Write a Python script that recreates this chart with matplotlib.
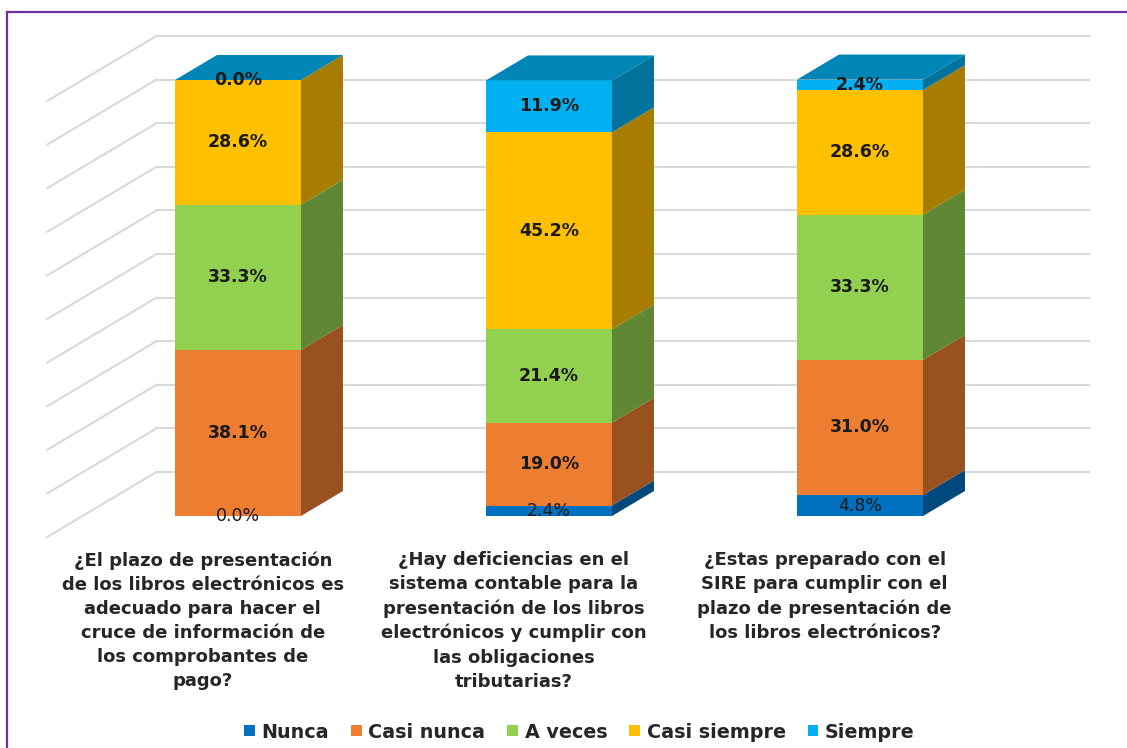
import numpy as np
import matplotlib
matplotlib.use("Agg")
import matplotlib.pyplot as plt
from matplotlib.patches import Polygon, Patch
from matplotlib.lines import Line2D
import matplotlib.colors as mcolors

plt.rcParams['font.family'] = ['DejaVu Sans']

# data
preguntas = [
    "¿El plazo de presentación\nde los libros electrónicos es\nadecuado para hacer el\ncruce de información de\nlos comprobantes de\npago?",
    "¿Hay deficiencias en el\nsistema contable para la\npresentación de los libros\nelectrónicos y cumplir con\nlas obligaciones\ntributarias?",
    "¿Estas preparado con el\nSIRE para cumplir con el\nplazo de presentación de\nlos libros electrónicos?",
]
series = ["Nunca", "Casi nunca", "A veces", "Casi siempre", "Siempre"]
nunca = [0.0, 2.4, 4.8]
casi_nunca = [38.1, 19.0, 31.0]
a_veces = [33.3, 21.4, 33.3]
casi_siempre = [28.6, 45.2, 28.6]
siempre = [0.0, 11.9, 2.4]
colores = ["#0070C0", "#ED7D31", "#92D050", "#FFC000", "#00B0F0"]

valores = [nunca, casi_nunca, a_veces, casi_siempre, siempre]

# fake 3d geometry (category units / percent units)
ddx = 42 / 311.0
ddy = 25 / 4.36
D_back = 1.76
D_front = -0.84
w = 0.405

def shade(c, f):
    r, g, b = mcolors.to_rgb(c)
    return (r * f, g * f, b * f)

fig = plt.figure(figsize=(11.27, 7.48), dpi=100)
ax = fig.add_axes([0, 0, 1, 1])
ax.set_xlim((0 - 238) / 311.0, (1127 - 238) / 311.0)
ax.set_ylim((516 - 748) / 4.36, 516 / 4.36)
ax.axis('off')

# walls / gridlines
grid_c = "#D9D9D9"
for v in range(0, 101, 10):
    yb = v + D_back * ddy
    xb = -0.5 + D_back * ddx
    ax.plot([xb, 2.5 + D_back * ddx], [yb, yb], color=grid_c, lw=1.5, zorder=1)
    ax.plot([xb, -0.5 + D_front * ddx], [yb, v + D_front * ddy], color=grid_c, lw=1.5, zorder=1)

x = np.arange(len(preguntas))
bottom = np.zeros(len(preguntas))
for i, vals in enumerate(valores):
    vals = np.array(vals)
    ax.bar(x, vals, w, bottom=bottom, color=colores[i], zorder=3)
    for j in range(len(x)):
        if vals[j] <= 0:
            continue
        x1 = x[j] + w / 2
        y0 = bottom[j]
        y1 = bottom[j] + vals[j]
        side = Polygon([(x1, y0), (x1 + ddx, y0 + ddy), (x1 + ddx, y1 + ddy), (x1, y1)],
                       closed=True, facecolor=shade(colores[i], 0.65), edgecolor='none', zorder=3)
        ax.add_patch(side)
    bottom = bottom + vals

# top faces (Excel paints them with the last series)
for j in range(len(x)):
    x0 = x[j] - w / 2
    x1 = x[j] + w / 2
    yt = bottom[j]
    top = Polygon([(x0, yt), (x1, yt), (x1 + ddx, yt + ddy), (x0 + ddx, yt + ddy)],
                  closed=True, facecolor=shade(colores[-1], 0.76), edgecolor='none', zorder=3)
    ax.add_patch(top)

# value labels
bottom = np.zeros(len(preguntas))
for i, vals in enumerate(valores):
    for j in range(len(x)):
        ypos = bottom[j] + vals[j] / 2
        ax.text(x[j], ypos, "%.1f%%" % vals[j], ha='center', va='center',
                fontsize=12.5, color='#1A1A1A',
                fontweight='normal' if i == 0 else 'bold', zorder=5)
    bottom = bottom + np.array(vals)

# category labels
for j in range(len(x)):
    ax.text(x[j] + D_front * ddx, (516 - 551) / 4.36, preguntas[j], ha='center', va='top',
            fontsize=13, fontweight='bold', color='#262626', linespacing=1.43)

handles = [Patch(facecolor=c, edgecolor='none') for c in colores]
fig.legend(handles, series, loc='center', bbox_to_anchor=(0.514, 1 - 732 / 748.0), ncol=5,
           frameon=False, handlelength=0.55, handleheight=0.55, handletextpad=0.35,
           columnspacing=1.15, prop={'size': 13.8, 'weight': 'bold'}, labelcolor='#262626')

# purple frame (left and top edge)
fig.add_artist(Line2D([7 / 1127.0, 7 / 1127.0], [0, 1 - 12 / 748.0], color='#7030A0', lw=1.6))
fig.add_artist(Line2D([7 / 1127.0, 1], [1 - 12 / 748.0, 1 - 12 / 748.0], color='#7030A0', lw=1.6))

fig.savefig("out.png", dpi=100)
